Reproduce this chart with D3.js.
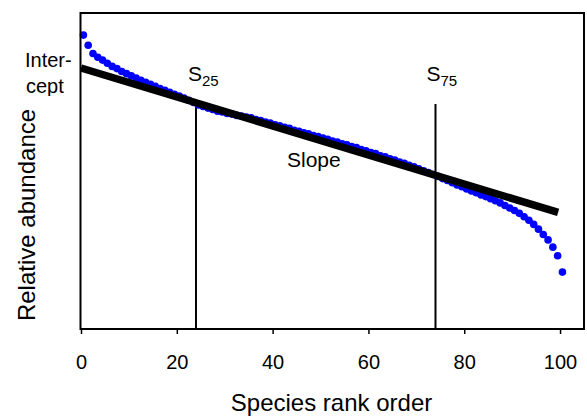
<!DOCTYPE html>
<html>
<head>
<meta charset="utf-8">
<script src="https://cdn.jsdelivr.net/npm/d3@7"></script>
<style>
  html, body { margin: 0; padding: 0; background: #ffffff; }
  svg { display: block; }
  text { font-family: "Liberation Sans", Arial, Helvetica, sans-serif; fill: #000; }
</style>
</head>
<body>
<svg id="chart" width="587" height="416"></svg>
<script>
// ---- data ----
// relative abundance (arbitrary units) of each species, in rank order
const abundance = [
  93.0, 89.8, 87.2, 86.0, 85.1, 84.1, 83.1, 82.4, 81.5, 80.8,
  80.1, 79.4, 78.7, 78.1, 77.4, 76.8, 76.1, 75.5, 74.9, 74.3,
  73.7, 73.1, 72.4, 71.7, 70.9, 70.4, 69.9, 69.5, 68.9, 68.7,
  68.2, 68.0, 67.6, 67.4, 67.1, 66.8, 66.3, 66.0, 65.5, 65.2,
  64.6, 64.3, 63.8, 63.5, 62.9, 62.6, 62.1, 61.8, 61.2, 60.9,
  60.4, 60.0, 59.5, 59.2, 58.6, 58.3, 57.7, 57.4, 56.8, 56.4,
  55.8, 55.5, 54.8, 54.5, 53.9, 53.5, 52.8, 52.4, 51.8, 51.3,
  50.7, 50.1, 49.5, 48.9, 48.3, 47.6, 47.0, 46.3, 45.6, 45.0,
  44.3, 43.7, 43.1, 42.4, 41.9, 41.2, 40.6, 39.9, 39.1, 38.3,
  37.5, 36.6, 35.5, 34.4, 33.1, 31.6, 29.9, 28.2, 25.9, 23.2,
  18.0
];
const rankOffset = 0.5;               // points sit half a rank right of the index
const fitX = [0, 99.6];               // regression line ends (rank)
const fitY = [82.6, 36.9];            // regression line ends (abundance)
const quantileX = [24, 74];           // S25 and S75 rank positions
const quantileTop = 71.2;             // top of the quantile markers (abundance)
const quantileNames = ["25", "75"];
const xTicks = [0, 20, 40, 60, 80, 100];
const xDomain = [0, 105];
const yDomain = [0, 100];

(function () {
  const svg = d3.select("#chart");
  const mLeft = 81, mRight = 584, mTop = 13, mBottom = 329;
  const font = '"Liberation Sans", Arial, Helvetica, sans-serif';

  const x = d3.scaleLinear().domain(xDomain).range([mLeft, mRight]);
  const y = d3.scaleLinear().domain(yDomain).range([mBottom, mTop]);

  // x axis ticks and labels
  const xAxis = d3.axisBottom(x).tickValues(xTicks).tickSize(5).tickPadding(21).tickFormat(d3.format("d"));
  const gx = svg.append("g").attr("transform", `translate(0,${mBottom})`).call(xAxis);
  gx.select(".domain").remove();
  gx.selectAll(".tick line").attr("stroke", "#000").attr("stroke-width", 1.5);
  gx.selectAll(".tick text").attr("font-size", 20).attr("font-family", font).attr("fill", "#000");

  // quantile vertical lines
  svg.append("g").selectAll("line.q").data(quantileX).join("line")
    .attr("class", "q")
    .attr("x1", d => x(d)).attr("x2", d => x(d))
    .attr("y1", y(quantileTop)).attr("y2", mBottom)
    .attr("stroke", "#000").attr("stroke-width", 2);

  // data points
  svg.append("g").selectAll("circle").data(abundance).join("circle")
    .attr("cx", (d, i) => x(i + rankOffset))
    .attr("cy", d => y(d))
    .attr("r", 3.8)
    .attr("fill", "#0000ff");

  // regression line
  svg.append("line")
    .attr("x1", x(fitX[0])).attr("y1", y(fitY[0]))
    .attr("x2", x(fitX[1])).attr("y2", y(fitY[1]))
    .attr("stroke", "#000").attr("stroke-width", 7.5);

  // frame
  svg.append("rect")
    .attr("x", x(xDomain[0]) - 0.5).attr("y", mTop)
    .attr("width", x(xDomain[1]) - x(xDomain[0]) + 0.5).attr("height", mBottom - mTop)
    .attr("fill", "none").attr("stroke", "#000").attr("stroke-width", 2);

  // quantile labels
  const qLab = svg.append("g").selectAll("text").data(quantileX).join("text")
    .attr("x", (d, i) => x(d) - (i === 0 ? 8 : 9))
    .attr("y", 81)
    .attr("font-size", 21);
  qLab.append("tspan").text("S");
  qLab.append("tspan").attr("dy", 5).attr("font-size", 15).text((d, i) => quantileNames[i]);

  // slope label
  svg.append("text").attr("x", 287).attr("y", 167).attr("font-size", 21).text("Slope");

  // intercept label (clipped like the original text box)
  svg.append("clipPath").attr("id", "icpt").append("rect")
    .attr("x", 0).attr("y", 40).attr("width", 78).attr("height", 56);
  const ic = svg.append("g").attr("clip-path", "url(#icpt)");
  ic.append("text").attr("x", 25).attr("y", 67).attr("font-size", 20).text("Inter-");
  ic.append("text").attr("x", 26).attr("y", 93).attr("font-size", 20).text("cept");

  // axis titles
  svg.append("text")
    .attr("x", (mLeft + mRight) / 2 - 1).attr("y", 411)
    .attr("text-anchor", "middle").attr("font-size", 24)
    .text("Species rank order");
  svg.append("text")
    .attr("transform", "translate(35,215) rotate(-90)")
    .attr("text-anchor", "middle").attr("font-size", 24)
    .text("Relative abundance");
})();
</script>
</body>
</html>
